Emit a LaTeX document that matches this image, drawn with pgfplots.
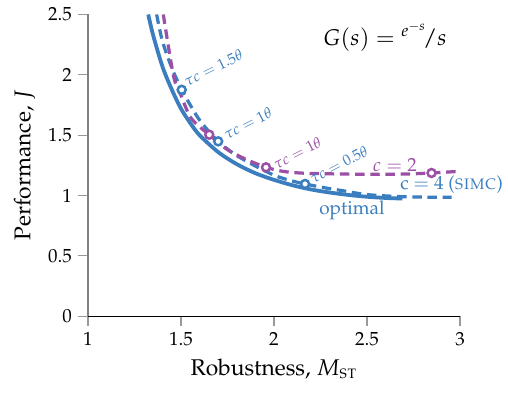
\documentclass[border=0pt]{standalone}
\usepackage[T1]{fontenc}
\usepackage{mathpazo}
\usepackage{amsmath}
\usepackage{pgfplots}
\pgfplotsset{compat=1.18}
\definecolor{cblue}{RGB}{58,126,191}
\definecolor{cpurple}{RGB}{155,80,166}
\begin{document}
\begin{tikzpicture}
\begin{axis}[
  scale only axis, width=196pt, height=159pt,
  xmin=1, xmax=3, ymin=0, ymax=2.5,
  axis lines=left,
  y axis line style={-, gray, line width=0.7pt},
  x axis line style={-, black, line width=0.5pt},
  xtick={1,1.5,2,2.5,3}, ytick={0,0.5,1,1.5,2,2.5},
  tick align=outside, major tick length=5pt,
  tick style={gray!80, line width=0.6pt},
  xlabel={Robustness, $M_{\text{\textsc{st}}}$},
  ylabel={Performance, $J$},
  label style={font=\large},
  clip=false,
]
\path (axis cs:0.527,-0.636) rectangle (axis cs:3.258,2.62);
% optimal
\addplot[cblue, line width=2pt, smooth] coordinates {
(1.324,2.50) (1.35,2.33) (1.40,2.07) (1.45,1.88) (1.50,1.72) (1.55,1.60)
(1.60,1.50) (1.70,1.36) (1.80,1.26) (1.90,1.185) (2.00,1.13) (2.10,1.085)
(2.20,1.05) (2.30,1.025) (2.40,1.005) (2.50,0.99) (2.60,0.98) (2.69,0.975)};
% c = 4 (SIMC)
\addplot[cblue, line width=1.7pt, dash pattern=on 5pt off 3pt, smooth] coordinates {
(1.369,2.50) (1.40,2.28) (1.45,2.06) (1.504,1.876) (1.55,1.75) (1.593,1.64)
(1.65,1.53) (1.70,1.449) (1.78,1.35) (1.853,1.284) (1.93,1.22) (2.014,1.16)
(2.10,1.12) (2.167,1.096) (2.27,1.065) (2.37,1.04) (2.50,1.008) (2.70,0.99) (2.955,0.985)};
% c = 2
\addplot[cpurple, line width=1.7pt, dash pattern=on 5pt off 3pt, smooth] coordinates {
(1.405,2.50) (1.46,1.99) (1.50,1.83) (1.548,1.655) (1.60,1.57) (1.652,1.504)
(1.75,1.38) (1.85,1.30) (1.957,1.234) (2.05,1.20) (2.15,1.186) (2.30,1.18)
(2.50,1.176) (2.70,1.178) (2.847,1.187) (2.99,1.20)};
% markers
\addplot[only marks, mark=*, mark size=2.1pt, draw=cblue, fill=white, line width=1.3pt] coordinates {
(1.504,1.876) (1.70,1.449) (2.167,1.096)};
\addplot[only marks, mark=*, mark size=2.1pt, draw=cpurple, fill=white, line width=1.3pt] coordinates {
(1.652,1.504) (1.957,1.234) (2.847,1.187)};
% labels
\node[cblue, font=\footnotesize, rotate=26] at (axis cs:1.675,2.06) {$\tau c = 1.5\theta$};
\node[cblue, font=\footnotesize, rotate=27] at (axis cs:1.86,1.60) {$\tau c = 1\theta$};
\node[cpurple, font=\footnotesize, rotate=27] at (axis cs:2.126,1.355) {$\tau c = 1\theta$};
\node[cblue, font=\footnotesize, rotate=28] at (axis cs:2.35,1.256) {$\tau c = 0.5\theta$};
\node[cpurple] at (axis cs:2.65,1.25) {$c = 2$};
\node[cblue, anchor=west, inner sep=0pt] at (axis cs:2.677,1.09) {c $=$ 4 (\textsc{simc})};
\node[cblue] at (axis cs:2.419,0.876) {optimal};
\node[font=\large] at (axis cs:2.597,2.314) {$G(s) = {}^{e^{-s}}\!/s$};
\end{axis}
\end{tikzpicture}
\end{document}
